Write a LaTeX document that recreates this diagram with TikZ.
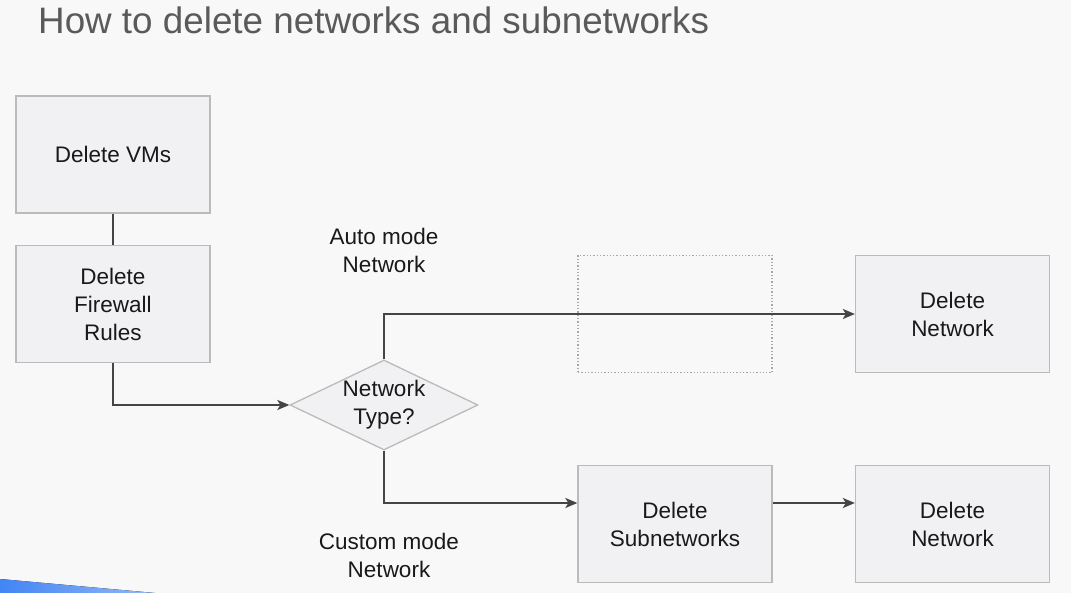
\documentclass[tikz,border=0pt]{standalone}
\usepackage{fontspec}
\setmainfont{Liberation Sans}
\usetikzlibrary{shapes.geometric,arrows.meta}
\definecolor{bgcol}{HTML}{F8F8F8}
\definecolor{boxfill}{HTML}{F1F1F3}
\definecolor{boxline}{HTML}{BBBBBB}
\definecolor{linecol}{HTML}{454545}
\definecolor{titlecol}{HTML}{5A5A5A}
\definecolor{bluecol}{HTML}{4285F4}

\begin{document}
\begin{tikzpicture}[x=1pt,y=-1pt,
  txt/.style={align=center,inner sep=0pt,text=black!90,font=\fontsize{22.5}{28}\selectfont},
  box/.style={txt,draw=boxline,fill=boxfill,line width=1.3pt,minimum width=194pt,minimum height=117pt},
  decision/.style={diamond,draw=boxline,fill=boxfill,line width=1.3pt,minimum width=188pt,minimum height=90pt,inner sep=0pt},
  conn/.style={draw=linecol,line width=2pt},
  arr/.style={conn,-{Stealth[length=12pt,width=10pt,inset=3pt]}}]
\fill[bgcol] (0,0) rectangle (1071,593);
\useasboundingbox (0,0) rectangle (1071,593);

% title
\node[anchor=base west,inner sep=0pt,text=titlecol,font=\fontsize{36.8}{40}\selectfont] (title) at (38,34) {How to delete networks and subnetworks};

% left column
\node[box] (vms) at (113,154.5) {Delete VMs};
\node[box] (fw) at (113,304) {Delete\\Firewall\\Rules};

% decision
\node[decision] (type) at (384,405) {};
\node[txt] (typetext) at (type) {Network\\Type?};

% right part
\node[box,draw=boxline!90!black,fill=bgcol,dotted,line width=1.2pt] (empty) at (675,314) {};
\node[box] (netA) at (952.5,314) {Delete\\Network};
\node[box] (subnets) at (675,524) {Delete\\Subnetworks};
\node[box] (netB) at (952.5,524) {Delete\\Network};

\node[txt] (auto) at (384,250) {Auto mode\\Network};
\node[txt] (custom) at (389,555) {Custom mode\\Network};

% connectors
\draw[conn] (vms) -- (fw);
\draw[arr] (fw.south) |- (type.west);
\draw[arr] (type.north) |- (netA.west);
\draw[arr] (type.south) |- ([yshift=21pt]subnets.west);
\draw[arr] ([yshift=21pt]subnets.east) -- ([yshift=21pt]netB.west);

% corner
\fill[left color=bluecol,right color=bluecol!55!bgcol] (0,579) -- (155,593) -- (0,593) -- cycle;
\end{tikzpicture}
\end{document}
